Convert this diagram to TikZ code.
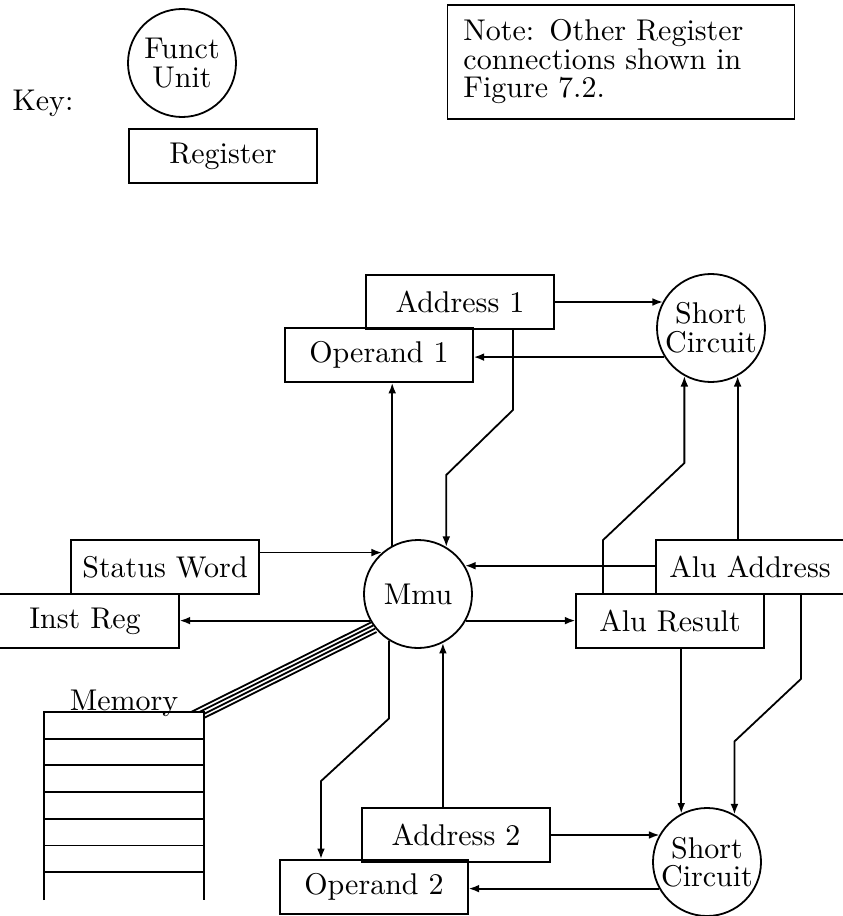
\documentclass[tikz,border=0pt]{standalone}
\usepackage{tikz}
\usetikzlibrary{arrows.meta, calc}
\tikzstyle{register} = [rectangle, minimum width=62.5pt, minimum height=18pt, inner sep=0pt, text centered, draw=black, semithick]
\tikzstyle{funcunit} = [circle, minimum size=36pt, inner sep=0pt, align=center, draw=black, semithick, font=\fontsize{10pt}{9.5pt}\selectfont]
\tikzstyle{notebox} = [rectangle, minimum width=115.7pt, minimum height=36.3pt, text width=105pt, inner sep=5pt, align=left, draw=black, semithick, font=\fontsize{10pt}{9.5pt}\selectfont]
\tikzstyle{line} = [semithick, -]
\tikzstyle{arrow} = [semithick, -{Latex[length=3.5pt, width=2.6pt]}]

\begin{document}
\begin{tikzpicture}[x=0.3333pt, y=-0.3333pt]
    \useasboundingbox (0,0) rectangle (843,916);

    \node (key) at (43,103) {Key:};
    \node (funct) [funcunit] at (182,63) {Funct\\Unit};
    \node (reg) [register] at (223,156) {Register};
    \node (note) [notebox] at (621,62) {Note: Other Register\\connections shown in\\Figure 7.2.};

    \node (addr1) [register] at (460,302) {Address 1};
    \node (op1) [register] at (379,355) {Operand 1};
    \node (sctop) [funcunit] at (711,328) {Short\\Circuit};
    \node (mmu) [funcunit] at (418,594) {Mmu};
    \node (status) [register] at (165,567) {Status Word};
    \node (instreg) [register] at (85,621) {Inst Reg};
    \node (aluaddr) [register] at (750,567) {Alu Address};
    \node (alures) [register] at (670,621) {Alu Result};
    \node (addr2) [register] at (456,835) {Address 2};
    \node (op2) [register] at (374,887) {Operand 2};
    \node (scbot) [funcunit] at (707,862) {Short\\Circuit};

    \node (memlabel) [anchor=base] at (124,710) {Memory};
    \node (mem) [minimum width=52.7pt, minimum height=62.3pt, inner sep=0pt] at (124,806) {};
    \draw[line] (mem.south west) -- (mem.north west) -- (mem.north east) -- (mem.south east);
    \foreach \i in {1,...,6}
        \draw[line] ($(mem.north west)+(0,26.7*\i)$) -- ($(mem.north east)+(0,26.7*\i)$);
    \foreach \dx/\dy/\o in {-12.5/0/1.5, -4.2/0/0.5, 0/2.1/-0.5, 0/6.2/-1.5}
        \draw[line] ($(mem.north east)+(\dx,\dy)$) -- ($(mmu.217)!{\o*1.23pt}!-90:(mem.north east)$);

    \draw[arrow] (addr1.east) -- (addr1.east -| sctop.151);
    \draw[arrow] (sctop.212) -- (sctop.212 -| op1.east);
    \draw[arrow] ($(addr1.south)+(53,0)$) -- ++(0,80) -- ($(mmu.59)+(0,-72)$) -- (mmu.59);
    \draw[arrow] (mmu.118) -- (mmu.118 |- op1.south);
    \draw[arrow] (mmu.131 -| status.east) -- (mmu.131);
    \draw[arrow] (mmu.31 -| aluaddr.west) -- (mmu.31);
    \draw[arrow] (mmu.209) -- (mmu.209 -| instreg.east);
    \draw[arrow] (mmu.331) -- (mmu.331 -| alures.west);
    \draw[arrow] ($(alures.north)+(-67,0)$) -- ++(0,-53) -- ($(sctop.241)+(0,87)$) -- (sctop.241);
    \draw[arrow] (sctop.299 |- aluaddr.north) -- (sctop.299);
    \draw[arrow] (scbot.118 |- alures.south) -- (scbot.118);
    \draw[arrow] ($(aluaddr.south)+(51,0)$) -- ++(0,84) -- ($(scbot.60)+(0,-73)$) -- (scbot.60);
    \draw[arrow] (addr2.east) -- (addr2.east -| scbot.150);
    \draw[arrow] (scbot.209) -- (scbot.209 -| op2.east);
    \draw[arrow] (mmu.297 |- addr2.north) -- (mmu.297);
    \draw[arrow] (mmu.238) -- ++(0,78) -- ($(op2.north)+(-53,-78)$) -- ($(op2.north)+(-53,0)$);

\end{tikzpicture}
\end{document}
